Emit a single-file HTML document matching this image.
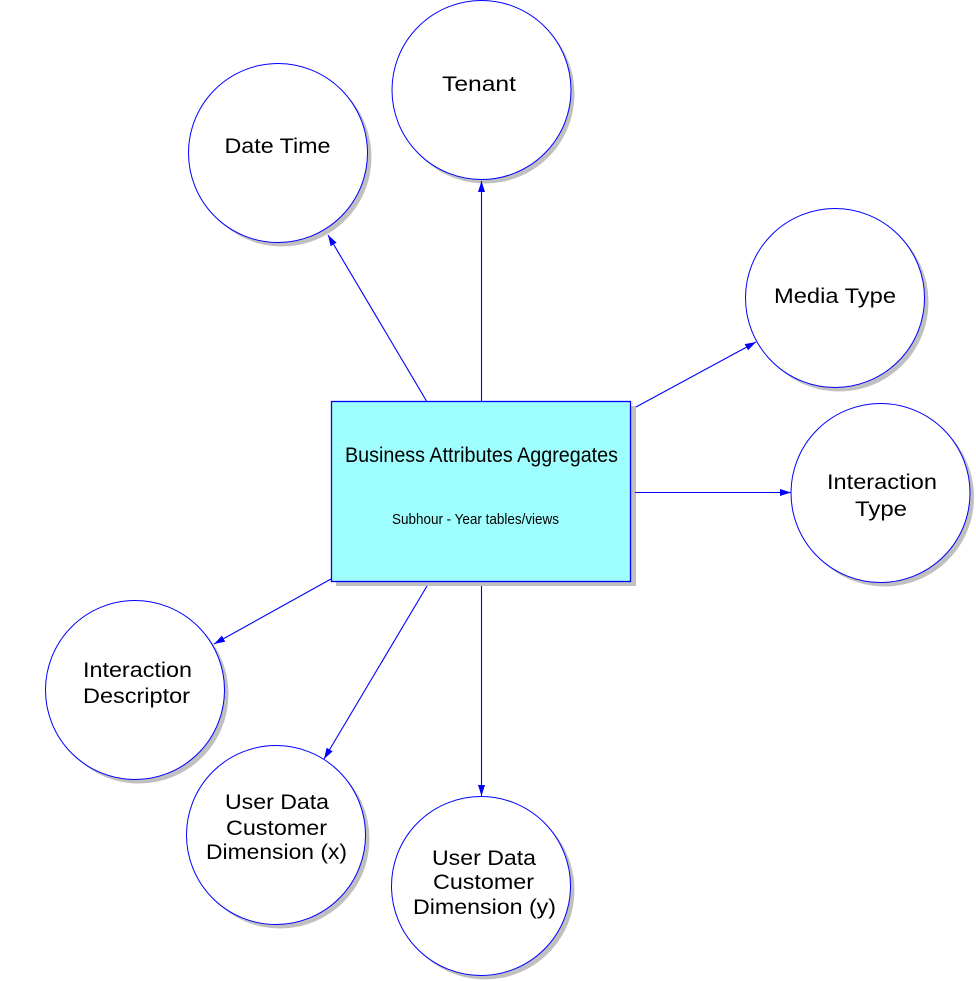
<!DOCTYPE html>
<html><head><meta charset="utf-8"><style>
html,body{margin:0;padding:0;background:#fff;}
svg{display:block;}
text{font-family:"Liberation Sans",Arial,sans-serif;fill:#000;}
</style></head><body>
<svg width="976" height="981" viewBox="0 0 976 981" xmlns="http://www.w3.org/2000/svg">
<defs>
<marker id="ah" markerUnits="userSpaceOnUse" markerWidth="12" markerHeight="8" refX="11" refY="3.5" orient="auto">
<path d="M0,0 L11,3.5 L0,7 z" fill="#0000ff"/>
</marker>
</defs>
<g fill="#c0c0c0">
<circle cx="485" cy="94" r="89.5"/>
<circle cx="282" cy="157" r="89.5"/>
<circle cx="839" cy="302" r="89.5"/>
<circle cx="884.5" cy="497" r="89.5"/>
<circle cx="139" cy="694" r="89.5"/>
<circle cx="280" cy="839" r="89.5"/>
<circle cx="485" cy="890" r="89.5"/>
<rect x="336" y="406" width="300" height="180"/>
</g>
<g fill="#fff" stroke="#0000ff" stroke-width="1">
<circle cx="481.5" cy="90" r="89.5"/>
<circle cx="278" cy="153" r="89.5"/>
<circle cx="835" cy="298" r="89.5"/>
<circle cx="880.5" cy="493" r="89.5"/>
<circle cx="135" cy="690" r="89.5"/>
<circle cx="276" cy="835" r="89.5"/>
<circle cx="481" cy="886" r="89.5"/>
</g>
<g stroke="#0000ff" stroke-width="1.1" fill="none" marker-end="url(#ah)">
<line x1="426.5" y1="401" x2="328" y2="235"/>
<line x1="481.5" y1="401" x2="481.5" y2="181"/>
<line x1="636" y1="407" x2="756" y2="342"/>
<line x1="635" y1="492.5" x2="791" y2="492.5"/>
<line x1="331" y1="579" x2="214" y2="644"/>
<line x1="427" y1="586" x2="324" y2="759"/>
<line x1="481.5" y1="586" x2="481.5" y2="796"/>
</g>
<rect x="331.5" y="401.5" width="299" height="180" fill="#9fffff" stroke="#0000ff" stroke-width="1.3"/>
<g text-anchor="middle" font-size="21">
<text x="481.5" y="462" textLength="273" lengthAdjust="spacingAndGlyphs">Business Attributes Aggregates</text>
<text x="475.5" y="524" font-size="14.5" textLength="167" lengthAdjust="spacingAndGlyphs">Subhour - Year tables/views</text>
<text x="479" y="91" textLength="74" lengthAdjust="spacingAndGlyphs">Tenant</text>
<text x="277.5" y="153" textLength="106" lengthAdjust="spacingAndGlyphs">Date Time</text>
<text x="835" y="303" textLength="122" lengthAdjust="spacingAndGlyphs">Media Type</text>
<text x="882" y="489" textLength="110" lengthAdjust="spacingAndGlyphs">Interaction</text>
<text x="881" y="516" textLength="52" lengthAdjust="spacingAndGlyphs">Type</text>
<text x="137.5" y="677" textLength="109" lengthAdjust="spacingAndGlyphs">Interaction</text>
<text x="136.5" y="703" textLength="107" lengthAdjust="spacingAndGlyphs">Descriptor</text>
<text x="277" y="809" textLength="104" lengthAdjust="spacingAndGlyphs">User Data</text>
<text x="276.5" y="835" textLength="101" lengthAdjust="spacingAndGlyphs">Customer</text>
<text x="276.5" y="859" textLength="141" lengthAdjust="spacingAndGlyphs">Dimension (x)</text>
<text x="484" y="865" textLength="104" lengthAdjust="spacingAndGlyphs">User Data</text>
<text x="483.5" y="889" textLength="101" lengthAdjust="spacingAndGlyphs">Customer</text>
<text x="484.5" y="914" textLength="143" lengthAdjust="spacingAndGlyphs">Dimension (y)</text>
</g>
</svg>
</body></html>
